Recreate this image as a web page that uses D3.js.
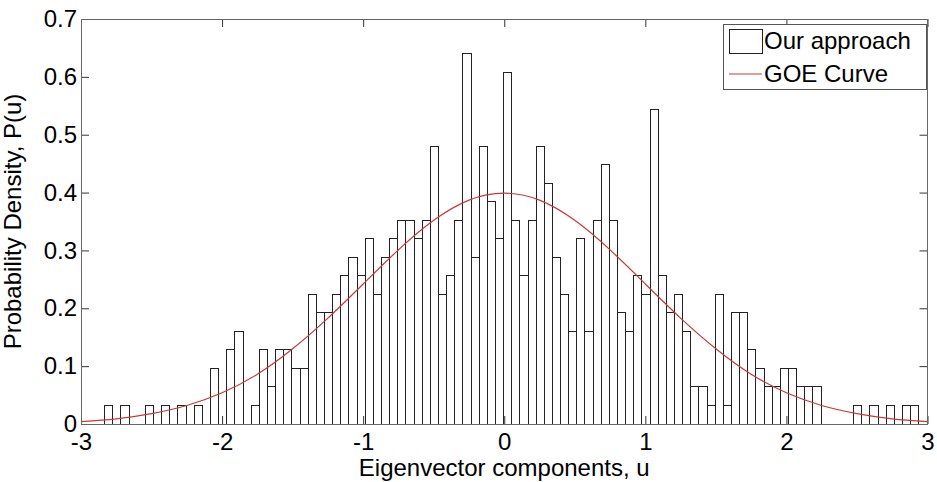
<!DOCTYPE html>
<html>
<head>
<meta charset="utf-8">
<script src="https://cdn.jsdelivr.net/npm/d3@7"></script>
<style>
body { margin: 0; background: #fff; }
svg { font-family: "Liberation Sans", Arial, sans-serif; }
</style>
</head>
<body>
<div id="chart"></div>
<script>
// histogram: 100 equal bins starting at binStart
var binStart = -2.832;
var binWidth = 0.0577;
var density = [
    0.032, 0, 0.032, 0, 0, 0.032, 0, 0.032, 0, 0.032,
    0, 0.032, 0, 0.096, 0, 0.128, 0.16, 0, 0.032, 0.128,
    0.064, 0.128, 0.128, 0.096, 0.096, 0.224, 0.192, 0.192, 0.224, 0.256,
    0.288, 0.256, 0.32, 0.224, 0.288, 0.32, 0.352, 0.352, 0.32, 0.352,
    0.48, 0.224, 0.256, 0.352, 0.64, 0.288, 0.48, 0.384, 0.32, 0.608,
    0.352, 0.256, 0.352, 0.48, 0.416, 0.288, 0.224, 0.16, 0.32, 0.16,
    0.352, 0.448, 0.352, 0.192, 0.16, 0.256, 0.224, 0.544, 0.256, 0.192,
    0.224, 0.16, 0.064, 0.064, 0.032, 0.224, 0.032, 0.192, 0.192, 0.128,
    0.096, 0.064, 0.064, 0.096, 0.096, 0.064, 0.064, 0.064, 0, 0,
    0, 0, 0.032, 0, 0.032, 0, 0.032, 0, 0.032, 0.032
];

// GOE curve
var curveU = [-3, -2.75, -2.5, -2.25, -2, -1.75, -1.5, -1.25, -1, -0.75, -0.5, -0.25, 0,
              0.25, 0.5, 0.75, 1, 1.25, 1.5, 1.75, 2, 2.25, 2.5, 2.75, 3];
var curveP = [0.004, 0.009, 0.018, 0.032, 0.054, 0.086, 0.130, 0.183, 0.242, 0.301, 0.352, 0.387, 0.399,
              0.387, 0.352, 0.301, 0.242, 0.183, 0.130, 0.086, 0.054, 0.032, 0.018, 0.009, 0.004];

var xTicks = [-3, -2, -1, 0, 1, 2, 3];
var xTickLabels = ["-3", "-2", "-1", "0", "1", "2", "3"];
var yTicks = [0, 0.1, 0.2, 0.3, 0.4, 0.5, 0.6, 0.7];
var yTickLabels = ["0", "0.1", "0.2", "0.3", "0.4", "0.5", "0.6", "0.7"];
var seriesNames = ["Our approach", "GOE Curve"];
var xLabel = "Eigenvector components, u";
var yLabel = "Probability Density, P(u)";

var width = 937;
var height = 482;
var padding = {top: 19, bottom: 58, left: 81, right: 9.5};
var tick_len = 8;
var font_size = 24;

var svg = d3.select("#chart")
    .append("svg")
    .attr("width", width)
    .attr("height", height);

var x_scale = d3.scaleLinear()
    .domain([-3, 3])
    .range([padding.left, width - padding.right]);
var y_scale = d3.scaleLinear()
    .domain([0, 0.7])
    .range([height - padding.bottom, padding.top]);

var bins = density.map(function(d, i){
    return {x0: binStart + i*binWidth, x1: binStart + (i+1)*binWidth, y: d};
}).filter(function(d){ return d.y > 0; });

svg.selectAll("rect.bar")
    .data(bins)
    .enter()
    .append("rect")
    .attr("class", "bar")
    .attr("x", function(d){ return x_scale(d.x0); })
    .attr("y", function(d){ return y_scale(d.y); })
    .attr("width", function(d){ return x_scale(d.x1) - x_scale(d.x0); })
    .attr("height", function(d){ return y_scale(0) - y_scale(d.y); })
    .attr("fill", "#fff")
    .attr("stroke", "#222")
    .attr("stroke-width", 1)
    .attr("shape-rendering", "crispEdges");

var line = d3.line()
    .x(function(d){ return x_scale(d[0]); })
    .y(function(d){ return y_scale(d[1]); })
    .curve(d3.curveNatural);

svg.append("path")
    .datum(curveU.map(function(u, i){ return [u, curveP[i]]; }))
    .attr("d", line)
    .attr("fill", "none")
    .attr("stroke", "#c8383a")
    .attr("stroke-width", 1.2);

// axes, MATLAB style: inward ticks on all four sides
var x_axis = d3.axisBottom(x_scale).tickValues(xTicks).tickSize(-tick_len).tickPadding(9)
    .tickFormat(function(d, i){ return xTickLabels[i]; });
var y_axis = d3.axisLeft(y_scale).tickValues(yTicks).tickSize(-tick_len).tickPadding(4)
    .tickFormat(function(d, i){ return yTickLabels[i]; });

var gx = svg.append("g")
    .attr("transform", "translate(0," + y_scale(0) + ")")
    .call(x_axis);
var gy = svg.append("g")
    .attr("transform", "translate(" + x_scale(-3) + ",0)")
    .call(y_axis);
var gx2 = svg.append("g")
    .attr("transform", "translate(0," + y_scale(0.7) + ")")
    .call(d3.axisTop(x_scale).tickValues(xTicks).tickSize(-tick_len).tickFormat(""));
var gy2 = svg.append("g")
    .attr("transform", "translate(" + x_scale(3) + ",0)")
    .call(d3.axisRight(y_scale).tickValues(yTicks).tickSize(-tick_len).tickFormat(""));

[gx, gy, gx2, gy2].forEach(function(g){
    g.select(".domain").remove();
    g.selectAll("line").attr("stroke", "#333");
    g.selectAll("text")
        .attr("fill", "#000")
        .style("font-size", font_size + "px")
        .style("font-family", "'Liberation Sans', Arial, sans-serif");
});

svg.append("rect")
    .attr("x", x_scale(-3))
    .attr("y", y_scale(0.7))
    .attr("width", x_scale(3) - x_scale(-3))
    .attr("height", y_scale(0) - y_scale(0.7))
    .attr("fill", "none")
    .attr("stroke", "#666")
    .attr("stroke-width", 1)
    .attr("shape-rendering", "crispEdges");

svg.append("text")
    .attr("x", (x_scale(-3) + x_scale(3)) / 2)
    .attr("y", 476)
    .attr("text-anchor", "middle")
    .style("font-size", font_size + "px")
    .text(xLabel);

svg.append("text")
    .attr("transform", "translate(21," + ((y_scale(0) + y_scale(0.7)) / 2) + ") rotate(-90)")
    .attr("text-anchor", "middle")
    .style("font-size", font_size + "px")
    .text(yLabel);

// legend
var legend = svg.append("g").attr("class", "legend");
legend.append("rect")
    .attr("x", 723).attr("y", 24)
    .attr("width", 203).attr("height", 65)
    .attr("fill", "#fff")
    .attr("stroke", "#555")
    .attr("shape-rendering", "crispEdges");
legend.append("rect")
    .attr("x", 729).attr("y", 29)
    .attr("width", 33).attr("height", 24)
    .attr("fill", "#fff")
    .attr("stroke", "#222")
    .attr("shape-rendering", "crispEdges");
legend.append("line")
    .attr("x1", 729).attr("x2", 762)
    .attr("y1", 74).attr("y2", 74)
    .attr("stroke", "#c8383a")
    .attr("stroke-width", 1.2);
legend.selectAll("text.item")
    .data(seriesNames)
    .enter()
    .append("text")
    .attr("class", "item")
    .attr("x", 764)
    .attr("y", function(d, i){ return 41 + i*33; })
    .attr("dy", "0.35em")
    .style("font-size", font_size + "px")
    .text(function(d){ return d; });
</script>
</body>
</html>
